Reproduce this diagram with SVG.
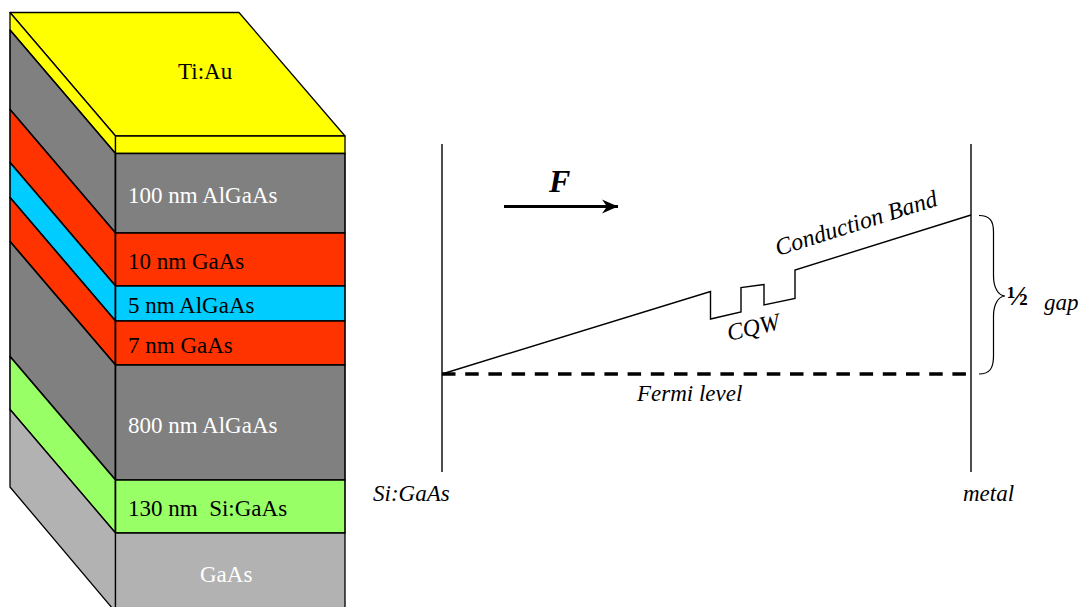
<svg xmlns="http://www.w3.org/2000/svg" width="1088" height="607" viewBox="0 0 1088 607">
<style>
.o{stroke:#000;stroke-width:1.3;stroke-linejoin:round}
.b{stroke:#000;stroke-width:1.6;stroke-linejoin:round}
text{font-family:"Liberation Serif","Times New Roman",serif;font-size:23px}
.w{fill:#fff}
.i{font-style:italic}
.l{fill:none;stroke:#000;stroke-width:1.4}
</style>
<defs><marker id="arr" markerUnits="userSpaceOnUse" markerWidth="18" markerHeight="16" refX="16" refY="8" orient="auto"><path d="M0 1L16 8L0 15L5 8Z" fill="#000"/></marker></defs>
<rect width="1088" height="607" fill="#fff"/>
<g id="layer-tiau">
<polygon class="o" points="10,12.5 239,12.5 345,136 115.5,136" fill="#ffff00"/>
<polygon class="o" points="10,12.5 115.5,136 115.5,153.5 10,30" fill="#ffff00"/>
<rect class="o" x="115.5" y="136" width="229.5" height="17.5" fill="#ffff00"/>
<text x="178" y="79">Ti:Au</text>
</g>
<g id="layer-100-algaas">
<polygon class="b" points="10,30 115.5,153.5 115.5,233 10,109.5" fill="#808080"/>
<rect class="b" x="115.5" y="153.5" width="229.5" height="79.5" fill="#808080"/>
<text class="w" x="128" y="202.500">100 nm AlGaAs</text>
</g>
<g id="layer-10-gaas">
<polygon class="b" points="10,109.500 115.500,233 115.500,286 10,162.500" fill="#ff3300"/>
<rect class="b" x="115.500" y="233" width="229.500" height="53" fill="#ff3300"/>
<text x="128" y="268.500">10 nm GaAs</text>
</g>
<g id="layer-5-algaas">
<polygon class="b" points="10,162.500 115.500,286 115.500,321 10,197.500" fill="#00ccff"/>
<rect class="b" x="115.500" y="286" width="229.500" height="35" fill="#00ccff"/>
<text x="128" y="313">5 nm AlGaAs</text>
</g>
<g id="layer-7-gaas">
<polygon class="b" points="10,197.500 115.500,321 115.500,365 10,241.500" fill="#ff3300"/>
<rect class="b" x="115.500" y="321" width="229.500" height="44" fill="#ff3300"/>
<text x="128" y="352.500">7 nm GaAs</text>
</g>
<g id="layer-800-algaas">
<polygon class="b" points="10,241.500 115.500,365 115.500,480 10,356.500" fill="#808080"/>
<rect class="b" x="115.500" y="365" width="229.500" height="115" fill="#808080"/>
<text class="w" x="128" y="432.500">800 nm AlGaAs</text>
</g>
<g id="layer-130-sigaas">
<polygon class="b" points="10,356.500 115.500,480 115.500,533 10,409.500" fill="#99ff66"/>
<rect class="b" x="115.500" y="480" width="229.500" height="53" fill="#99ff66"/>
<text x="128" y="515.500" xml:space="preserve">130 nm  Si:GaAs</text>
</g>
<g id="layer-gaas">
<polygon class="o" points="10,409.500 115.500,533 115.500,612 10,487" fill="#b2b2b2"/>
<rect class="o" x="115.500" y="533" width="229.500" height="80" fill="#b2b2b2"/>
<text class="w" x="200" y="582">GaAs</text>
</g>
<g id="connectors">
<line class="l" x1="442" y1="144" x2="442" y2="472"/>
<line class="l" x1="971" y1="144" x2="971" y2="472"/>
<path class="l" d="M442 374L710.500 291.500V319L741 312V287.500L764 284.500V305L795 298.500V270L971 215"/>
<path d="M442 374H966" fill="none" stroke="#000" stroke-width="3.300" stroke-dasharray="13.500 9.700"/>
<line x1="504" y1="206.500" x2="618" y2="206.500" stroke="#000" stroke-width="3" marker-end="url(#arr)"/>
<path d="M979 215.500C990 215.500 993.500 221 993.500 232V276C993.500 287 998 295.500 1005 296C998 296.500 993.500 305 993.500 316V356C993.500 368 990 374 979 374" fill="none" stroke="#000" stroke-width="1.200"/>
</g>
<g id="labels">
<text x="549" y="192" font-size="32" font-weight="bold" font-style="italic" style="font-size:32px">F</text>
<text class="i" x="778" y="256" transform="rotate(-17.500 778 256)" style="font-size:24px">Conduction Band</text>
<text class="i" x="729" y="341" transform="rotate(-13 729 341)" style="font-size:24px">CQW</text>
<text class="i" x="637" y="401">Fermi level</text>
<text class="i" x="373" y="501">Si:GaAs</text>
<text class="i" x="963" y="501">metal</text>
<text x="1007" y="305" font-weight="bold" style="font-size:28px">½</text>
<text class="i" x="1044" y="310">gap</text>
</g>
</svg>
